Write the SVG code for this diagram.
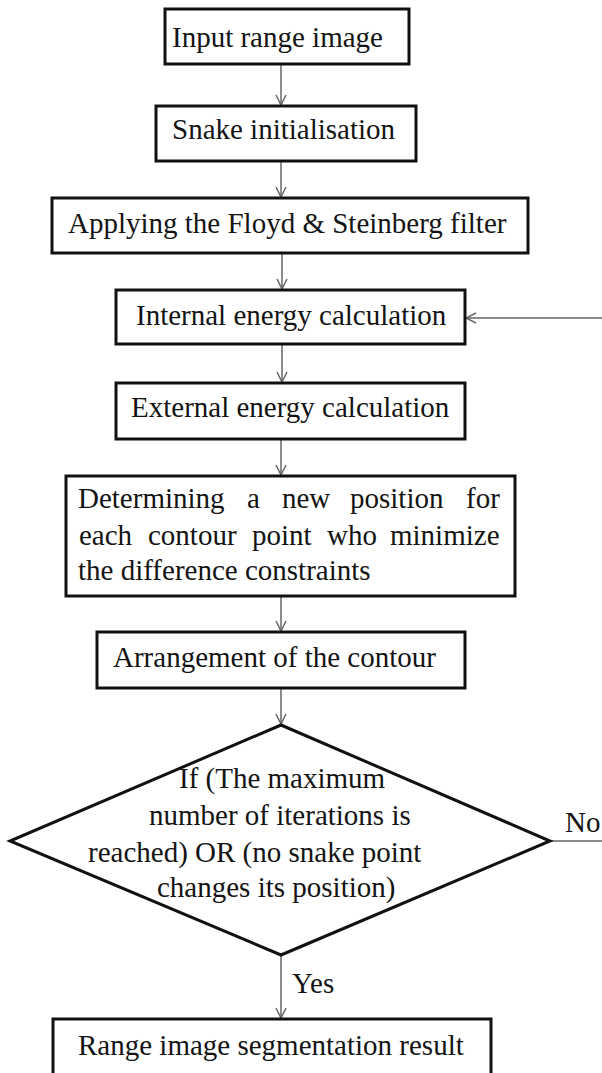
<svg xmlns="http://www.w3.org/2000/svg" width="602" height="1073" viewBox="0 0 602 1073">
<style>
.box{fill:#fff;stroke:#111;stroke-width:3}
.t{font-family:"Liberation Serif","Times New Roman",serif;font-size:29px;fill:#141414}
.c{fill:none;stroke:#666;stroke-width:1.5}
</style>
<defs>
<marker id="ah" viewBox="0 0 12 12" refX="11" refY="6" markerWidth="12" markerHeight="12" markerUnits="userSpaceOnUse" orient="auto">
<path d="M1,1 L11,6 L1,11" fill="none" stroke="#666" stroke-width="1.5"/>
</marker>
</defs>
<rect width="602" height="1073" fill="#fff"/>
<g id="connectors">
<line class="c" x1="281" y1="64" x2="281" y2="105" marker-end="url(#ah)"/>
<line class="c" x1="281" y1="161" x2="281" y2="197" marker-end="url(#ah)"/>
<line class="c" x1="282" y1="253" x2="282" y2="289" marker-end="url(#ah)"/>
<line class="c" x1="282" y1="344" x2="282" y2="382" marker-end="url(#ah)"/>
<line class="c" x1="281" y1="439" x2="281" y2="475" marker-end="url(#ah)"/>
<line class="c" x1="281" y1="596" x2="281" y2="631" marker-end="url(#ah)"/>
<line class="c" x1="281" y1="688" x2="281" y2="724" marker-end="url(#ah)"/>
<line class="c" x1="281" y1="955" x2="281" y2="1018" marker-end="url(#ah)"/>
<polyline class="c" points="550,841 604,841 604,318 466,318" marker-end="url(#ah)"/>
<text class="t" x="292" y="993">Yes</text>
<text class="t" x="565" y="832">No</text>
</g>
<g id="n1"><rect class="box" x="165" y="9" width="244" height="55"/><text class="t" x="172" y="47">Input range image</text></g>
<g id="n2"><rect class="box" x="156" y="106" width="260" height="55"/><text class="t" x="172" y="139">Snake initialisation</text></g>
<g id="n3"><rect class="box" x="52" y="198" width="476" height="55"/><text class="t" x="68" y="233">Applying the Floyd &amp; Steinberg filter</text></g>
<g id="n4"><rect class="box" x="116" y="290" width="349" height="54"/><text class="t" x="136" y="325">Internal energy calculation</text></g>
<g id="n5"><rect class="box" x="116" y="383" width="349" height="56"/><text class="t" x="131" y="417">External energy calculation</text></g>
<g id="n6"><rect class="box" x="66" y="476" width="449" height="120"/>
<text class="t" y="508"><tspan x="78">Determining</tspan><tspan x="247">a</tspan><tspan x="282">new</tspan><tspan x="350">position</tspan><tspan x="466">for</tspan></text>
<text class="t" y="545"><tspan x="79">each</tspan><tspan x="148">contour</tspan><tspan x="252">point</tspan><tspan x="327">who</tspan><tspan x="390">minimize</tspan></text>
<text class="t" x="78" y="580">the difference constraints</text>
</g>
<g id="n7"><rect class="box" x="97" y="632" width="368" height="56"/><text class="t" x="113" y="667">Arrangement of the contour</text></g>
<g id="n8"><polygon class="box" points="281,725 550,841 281,955 10,841"/>
<text class="t" x="179" y="788">If (The maximum</text>
<text class="t" x="149" y="825">number of iterations is</text>
<text class="t" x="88" y="862">reached) OR (no snake point</text>
<text class="t" x="157" y="897">changes its position)</text>
</g>
<g id="n9"><rect class="box" x="53" y="1019" width="438" height="70"/><text class="t" x="78" y="1055">Range image segmentation result</text></g>
</svg>
